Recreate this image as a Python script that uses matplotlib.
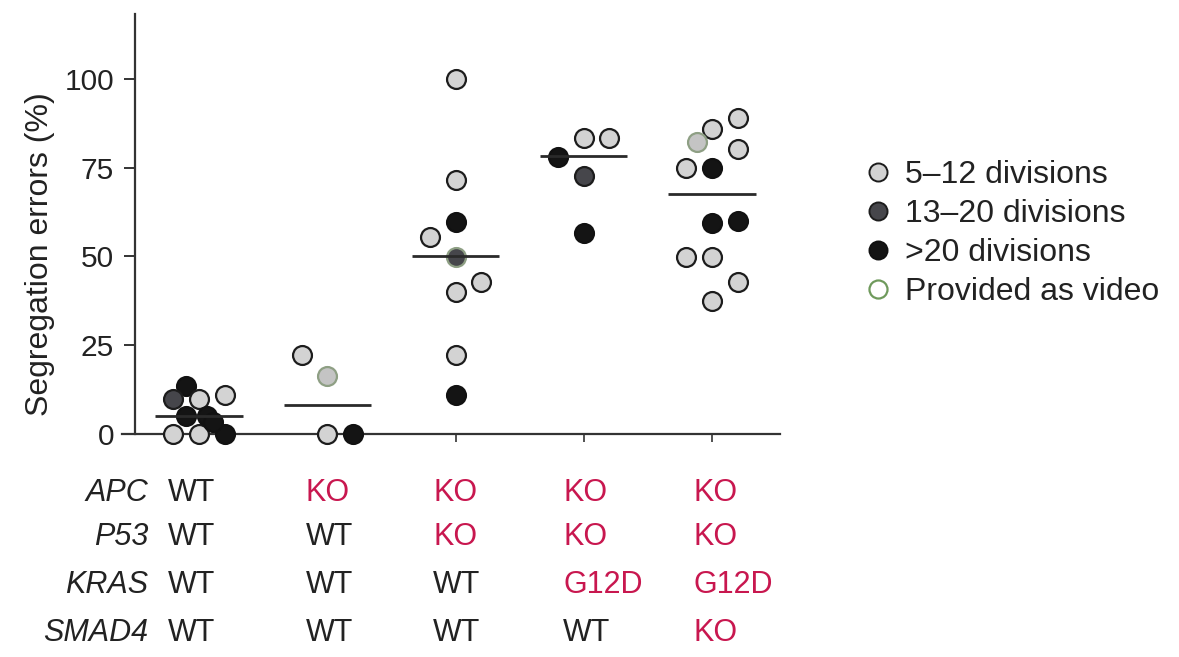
import matplotlib
matplotlib.use("Agg")
from matplotlib import pyplot as plt
from matplotlib.lines import Line2D
from matplotlib import transforms

plt.rcParams["font.family"] = ["Liberation Sans", "DejaVu Sans"]

# genotype table under the x axis
genes = ["APC", "P53", "KRAS", "SMAD4"]
genotypes = [
    ["WT", "WT", "WT", "WT"],
    ["KO", "WT", "WT", "WT"],
    ["KO", "KO", "WT", "WT"],
    ["KO", "KO", "G12D", "WT"],
    ["KO", "KO", "G12D", "KO"],
]

# segregation errors (%) per organoid line, per genotype column
values = [
    [0, 0, 0, 13.5, 10, 10, 11, 5, 5, 3.4],
    [22.3, 16.4, 0, 0],
    [100, 71.5, 59.7, 55.5, 49.9, 40, 42.8, 22.3, 11],
    [78, 83.4, 83.4, 72.7, 56.6],
    [89, 85.9, 82.3, 80.2, 74.9, 74.9, 59.4, 60, 49.9, 49.9, 42.8, 37.5],
]
# horizontal scatter of the dots inside a column (in column widths)
jitter = [
    [-0.2, 0, 0.2, -0.1, -0.2, 0, 0.2, -0.1, 0.06, 0.11],
    [-0.2, 0, 0, 0.2],
    [0, 0, 0, -0.2, 0, 0, 0.2, 0, 0],
    [-0.2, 0, 0.2, 0, 0],
    [0.2, 0, -0.12, 0.2, -0.2, 0, 0, 0.2, -0.2, 0, 0.2, 0],
]
# 0 = 5-12 divisions, 1 = 13-20 divisions, 2 = >20 divisions
divisions = [
    [0, 0, 2, 2, 1, 0, 0, 2, 2, 2],
    [0, 0, 0, 2],
    [0, 0, 2, 0, 1, 0, 0, 0, 2],
    [2, 0, 0, 1, 2],
    [0, 0, 0, 0, 0, 2, 2, 2, 0, 0, 0, 0],
]
video = [
    [],
    [1],
    [4],
    [],
    [2],
]
means = [5.1, 8.2, 50, 78.3, 67.6]

fills = ["#d3d3d3", "#46464b", "#141414"]
edges = ["#1c1c1c", "#1c1c1c", "#111111"]
video_edge = "#8e9f84"
red = "#c8174f"
ink = "#222222"

fig = plt.figure(figsize=(11.79, 6.57), dpi=100)
ax = fig.add_axes([0.1035, 0.3394, 0.5581, 0.6393])

for i, col in enumerate(values):
    for j, v in enumerate(col):
        k = divisions[i][j]
        ec = video_edge if j in video[i] else edges[k]
        fc = fills[k]
        if j in video[i] and k == 0:
            fc = "#c4c4c4"
        ax.scatter(i + jitter[i][j], v, s=185, c=fc, edgecolors=ec,
                   linewidths=1.6, zorder=3, clip_on=False)
    ax.plot([i - 0.34, i + 0.34], [means[i], means[i]], color="#2a2a2a",
            lw=2, zorder=4, solid_capstyle="butt")

ax.set_xlim(-0.6, 4.53)
ax.set_ylim(0, 118.3)
ax.set_yticks([0, 25, 50, 75, 100])
ax.set_xticks(range(5))
ax.set_xticklabels([])
ax.spines["top"].set_visible(False)
ax.spines["right"].set_visible(False)
ax.spines["left"].set_position(("data", -0.5))
for s in ["left", "bottom"]:
    ax.spines[s].set_color("#333333")
    ax.spines[s].set_linewidth(1.6)
ax.tick_params(axis="y", length=8, width=1.4, color="#333333",
               labelsize=21.5, labelcolor=ink, pad=7)
ax.tick_params(axis="x", length=6, width=1.2, color="#333333")

fig.text(40 / 1179, 0.613, "Segregation errors (%)", rotation=90,
         ha="center", va="center", fontsize=23, color=ink)

# genotype table
row_y = [493, 537, 585, 633]
col_dx = [-0.24, -0.17, -0.175, -0.16, -0.147]
trans = transforms.blended_transform_factory(ax.transData, fig.transFigure)
for r, g in enumerate(genes):
    yf = 1 - row_y[r] / 657
    fig.text(148 / 1179, yf, g, ha="right", va="center", fontsize=22,
             style="italic", color=ink)
    for c in range(5):
        t = genotypes[c][r]
        ax.text(c + col_dx[c], yf, t, transform=trans, ha="left",
                va="center", fontsize=22, color=ink if t == "WT" else red)

handles = [
    Line2D([], [], ls="none", marker="o", ms=13, mfc=fills[0],
           mec=edges[0], mew=1.4),
    Line2D([], [], ls="none", marker="o", ms=13, mfc=fills[1],
           mec=edges[1], mew=1.4),
    Line2D([], [], ls="none", marker="o", ms=13, mfc=fills[2],
           mec=edges[2], mew=1.4),
    Line2D([], [], ls="none", marker="o", ms=13, mfc="white",
           mec="#6f9a5c", mew=1.6),
]
labels = ["5\u201312 divisions", "13\u201320 divisions", ">20 divisions",
          "Provided as video"]
fig.legend(handles, labels, loc="upper left",
           bbox_to_anchor=(849 / 1179, 1 - 144 / 657), frameon=False,
           fontsize=23, handlelength=0.8, handletextpad=0.45,
           labelspacing=0.28, borderpad=0, labelcolor=ink)

fig.savefig("out.png", dpi=100)
